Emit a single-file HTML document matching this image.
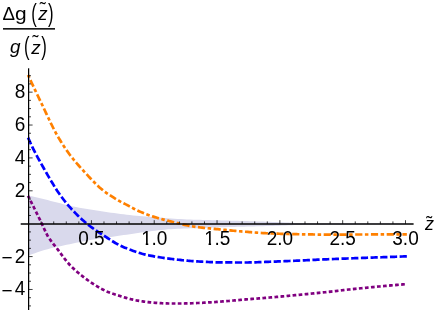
<!DOCTYPE html>
<html><head><meta charset="utf-8"><title>plot</title>
<style>
html,body{margin:0;padding:0;background:#fff;}
body{width:436px;height:313px;overflow:hidden;font-family:"Liberation Sans",sans-serif;}
svg{display:block;will-change:transform;font-family:"Liberation Sans",sans-serif;}
</style></head><body>
<svg width="436" height="313" viewBox="0 0 436 313">
<rect width="436" height="313" fill="#fff"/>
<path d="M28.60 195.50 L31.77 196.25 L34.93 197.01 L38.10 197.77 L41.27 198.54 L44.44 199.32 L47.60 200.10 L50.77 200.89 L53.94 201.68 L57.11 202.47 L60.27 203.29 L63.44 204.14 L66.61 204.98 L69.77 205.75 L72.94 206.43 L76.11 207.07 L79.28 207.67 L82.44 208.25 L85.61 208.81 L88.78 209.34 L91.94 209.86 L95.11 210.36 L98.28 210.84 L101.45 211.31 L104.61 211.77 L107.78 212.22 L110.95 212.66 L114.12 213.08 L117.28 213.51 L120.45 213.93 L123.62 214.34 L126.78 214.73 L129.95 215.09 L133.12 215.42 L136.29 215.73 L139.45 216.02 L142.62 216.29 L145.79 216.57 L148.95 216.83 L152.12 217.08 L155.29 217.33 L158.46 217.58 L161.62 217.83 L164.79 218.10 L167.96 218.36 L171.13 218.57 L174.29 218.76 L177.46 218.93 L180.63 219.09 L183.79 219.24 L186.96 219.39 L190.13 219.52 L193.30 219.64 L196.46 219.75 L199.63 219.85 L202.80 219.95 L205.96 220.03 L209.13 220.12 L212.30 220.20 L215.47 220.28 L218.63 220.36 L221.80 220.45 L224.97 220.53 L228.14 220.62 L231.30 220.70 L234.47 220.78 L237.64 220.86 L240.80 220.95 L243.97 221.03 L247.14 221.12 L250.31 221.21 L253.47 221.30 L256.64 221.40 L259.81 221.50 L262.97 221.60 L266.14 221.70 L269.31 221.80 L272.48 221.91 L275.64 222.02 L278.81 222.15 L281.98 222.30 L285.15 222.46 L288.31 222.61 L291.48 222.76 L294.65 222.88 L297.81 222.96 L300.98 223.01 L304.15 223.05 L307.32 223.08 L310.48 223.12 L313.65 223.15 L316.82 223.18 L319.98 223.21 L323.15 223.24 L326.32 223.27 L329.49 223.29 L332.65 223.32 L335.82 223.34 L338.99 223.37 L342.16 223.39 L345.32 223.41 L348.49 223.43 L351.66 223.45 L354.82 223.47 L357.99 223.48 L361.16 223.50 L364.33 223.51 L367.49 223.53 L370.66 223.54 L373.83 223.55 L376.99 223.56 L380.16 223.57 L383.33 223.57 L386.50 223.58 L389.66 223.59 L392.83 223.59 L396.00 223.60 L399.17 223.60 L402.33 223.60 L405.50 223.60 L405.50 224.20 L402.33 224.20 L399.17 224.20 L396.00 224.21 L392.83 224.21 L389.66 224.22 L386.50 224.22 L383.33 224.23 L380.16 224.24 L376.99 224.25 L373.83 224.26 L370.66 224.28 L367.49 224.29 L364.33 224.31 L361.16 224.33 L357.99 224.34 L354.82 224.36 L351.66 224.39 L348.49 224.41 L345.32 224.43 L342.16 224.46 L338.99 224.48 L335.82 224.51 L332.65 224.54 L329.49 224.57 L326.32 224.60 L323.15 224.63 L319.98 224.66 L316.82 224.70 L313.65 224.73 L310.48 224.77 L307.32 224.81 L304.15 224.85 L300.98 224.89 L297.81 224.94 L294.65 225.02 L291.48 225.13 L288.31 225.26 L285.15 225.39 L281.98 225.53 L278.81 225.66 L275.64 225.78 L272.48 225.88 L269.31 225.97 L266.14 226.06 L262.97 226.15 L259.81 226.24 L256.64 226.32 L253.47 226.41 L250.31 226.49 L247.14 226.58 L243.97 226.66 L240.80 226.74 L237.64 226.81 L234.47 226.89 L231.30 226.97 L228.14 227.06 L224.97 227.15 L221.80 227.24 L218.63 227.35 L215.47 227.48 L212.30 227.61 L209.13 227.73 L205.96 227.84 L202.80 227.94 L199.63 228.04 L196.46 228.15 L193.30 228.26 L190.13 228.37 L186.96 228.47 L183.79 228.58 L180.63 228.69 L177.46 228.82 L174.29 228.96 L171.13 229.13 L167.96 229.35 L164.79 229.66 L161.62 230.02 L158.46 230.37 L155.29 230.73 L152.12 231.10 L148.95 231.49 L145.79 231.90 L142.62 232.33 L139.45 232.79 L136.29 233.26 L133.12 233.74 L129.95 234.21 L126.78 234.65 L123.62 235.08 L120.45 235.53 L117.28 236.02 L114.12 236.53 L110.95 237.03 L107.78 237.49 L104.61 237.93 L101.45 238.36 L98.28 238.80 L95.11 239.28 L91.94 239.80 L88.78 240.35 L85.61 240.93 L82.44 241.53 L79.28 242.15 L76.11 242.78 L72.94 243.46 L69.77 244.15 L66.61 244.82 L63.44 245.47 L60.27 246.13 L57.11 246.80 L53.94 247.52 L50.77 248.30 L47.60 249.15 L44.44 250.06 L41.27 251.04 L38.10 252.08 L34.93 253.17 L31.77 254.31 L28.60 255.50Z" fill="#d9d9ec"/>
<g transform="scale(1 1.0)" fill="none" stroke-width="2.7" stroke-linecap="square" stroke-linejoin="round">
<path d="M28.60 197.00 L30.18 200.09 L31.75 203.21 L33.33 206.36 L34.91 209.52 L36.48 212.71 L38.06 215.92 L39.64 219.15 L41.22 222.39 L42.79 225.72 L44.37 229.25 L45.95 232.66 L47.52 235.64 L49.10 238.15 L50.68 240.43 L52.25 242.54 L53.83 244.55 L55.41 246.53 L56.99 248.53 L58.56 250.61 L60.14 252.73 L61.72 254.86 L63.29 256.97 L64.87 259.03 L66.45 261.02 L68.02 262.91 L69.60 264.68 L71.18 266.31 L72.76 267.87 L74.33 269.36 L75.91 270.79 L77.49 272.16 L79.06 273.49 L80.64 274.77 L82.22 276.03 L83.79 277.25 L85.37 278.45 L86.95 279.61 L88.53 280.74 L90.10 281.83 L91.68 282.89 L93.26 283.91 L94.83 284.90 L96.41 285.86 L97.99 286.81 L99.56 287.74 L101.14 288.65 L102.72 289.51 L104.30 290.33 L105.87 291.09 L107.45 291.78 L109.03 292.41 L110.60 293.00 L112.18 293.55 L113.76 294.08 L115.33 294.58 L116.91 295.07 L118.49 295.54 L120.07 296.02 L121.64 296.50 L123.22 296.98 L124.80 297.46 L126.37 297.93 L127.95 298.39 L129.53 298.82 L131.10 299.23 L132.68 299.61 L134.26 299.95 L135.84 300.26 L137.41 300.55 L138.99 300.83 L140.57 301.09 L142.14 301.34 L143.72 301.57 L145.30 301.79 L146.87 301.98 L148.45 302.15 L150.03 302.30 L151.61 302.44 L153.18 302.58 L154.76 302.71 L156.34 302.84 L157.91 302.97 L159.49 303.08 L161.07 303.19 L162.64 303.28 L164.22 303.36 L165.80 303.42 L167.37 303.47 L168.95 303.49 L170.53 303.50 L172.11 303.50 L173.68 303.50 L175.26 303.50 L176.84 303.50 L178.41 303.50 L179.99 303.50 L181.57 303.50 L183.14 303.50 L184.72 303.48 L186.30 303.46 L187.88 303.42 L189.45 303.36 L191.03 303.31 L192.61 303.24 L194.18 303.17 L195.76 303.10 L197.34 303.02 L198.91 302.95 L200.49 302.88 L202.07 302.80 L203.65 302.72 L205.22 302.64 L206.80 302.55 L208.38 302.45 L209.95 302.35 L211.53 302.25 L213.11 302.14 L214.68 302.03 L216.26 301.92 L217.84 301.80 L219.42 301.69 L220.99 301.57 L222.57 301.46 L224.15 301.34 L225.72 301.21 L227.30 301.08 L228.88 300.94 L230.45 300.80 L232.03 300.66 L233.61 300.52 L235.19 300.37 L236.76 300.23 L238.34 300.09 L239.92 299.94 L241.49 299.80 L243.07 299.66 L244.65 299.53 L246.22 299.40 L247.80 299.27 L249.38 299.14 L250.96 299.02 L252.53 298.89 L254.11 298.77 L255.69 298.65 L257.26 298.53 L258.84 298.40 L260.42 298.28 L261.99 298.16 L263.57 298.03 L265.15 297.90 L266.73 297.77 L268.30 297.64 L269.88 297.51 L271.46 297.37 L273.03 297.24 L274.61 297.10 L276.19 296.96 L277.76 296.82 L279.34 296.67 L280.92 296.53 L282.49 296.38 L284.07 296.24 L285.65 296.09 L287.23 295.94 L288.80 295.79 L290.38 295.64 L291.96 295.49 L293.53 295.34 L295.11 295.19 L296.69 295.04 L298.26 294.89 L299.84 294.74 L301.42 294.58 L303.00 294.43 L304.57 294.28 L306.15 294.12 L307.73 293.97 L309.30 293.82 L310.88 293.66 L312.46 293.50 L314.03 293.35 L315.61 293.19 L317.19 293.03 L318.77 292.87 L320.34 292.71 L321.92 292.55 L323.50 292.38 L325.07 292.22 L326.65 292.05 L328.23 291.88 L329.80 291.71 L331.38 291.54 L332.96 291.36 L334.54 291.18 L336.11 290.99 L337.69 290.81 L339.27 290.62 L340.84 290.43 L342.42 290.25 L344.00 290.06 L345.57 289.88 L347.15 289.71 L348.73 289.53 L350.31 289.37 L351.88 289.20 L353.46 289.04 L355.04 288.88 L356.61 288.71 L358.19 288.55 L359.77 288.39 L361.34 288.23 L362.92 288.07 L364.50 287.91 L366.08 287.76 L367.65 287.60 L369.23 287.44 L370.81 287.29 L372.38 287.14 L373.96 286.98 L375.54 286.83 L377.11 286.68 L378.69 286.53 L380.27 286.38 L381.85 286.24 L383.42 286.09 L385.00 285.95 L386.58 285.80 L388.15 285.66 L389.73 285.52 L391.31 285.38 L392.88 285.25 L394.46 285.11 L396.04 284.97 L397.62 284.84 L399.19 284.71 L400.77 284.58 L402.35 284.45 L403.92 284.33 L405.50 284.20" stroke="#800080" stroke-dasharray="1.000 5.060" stroke-dashoffset="0.5"/>
<path d="M28.60 138.90 L30.18 142.40 L31.75 145.81 L33.33 149.06 L34.91 152.16 L36.48 155.15 L38.06 158.06 L39.64 160.90 L41.22 163.71 L42.79 166.51 L44.37 169.30 L45.95 172.07 L47.52 174.80 L49.10 177.50 L50.68 180.17 L52.25 182.79 L53.83 185.41 L55.41 187.98 L56.99 190.44 L58.56 192.73 L60.14 194.96 L61.72 197.13 L63.29 199.23 L64.87 201.27 L66.45 203.24 L68.02 205.14 L69.60 206.95 L71.18 208.70 L72.76 210.40 L74.33 212.06 L75.91 213.68 L77.49 215.25 L79.06 216.78 L80.64 218.27 L82.22 219.71 L83.79 221.10 L85.37 222.45 L86.95 223.76 L88.53 225.02 L90.10 226.23 L91.68 227.41 L93.26 228.55 L94.83 229.66 L96.41 230.75 L97.99 231.81 L99.56 232.86 L101.14 233.89 L102.72 234.92 L104.30 235.94 L105.87 236.97 L107.45 238.00 L109.03 239.02 L110.60 240.04 L112.18 241.04 L113.76 242.02 L115.33 242.97 L116.91 243.87 L118.49 244.73 L120.07 245.53 L121.64 246.28 L123.22 246.98 L124.80 247.64 L126.37 248.27 L127.95 248.87 L129.53 249.47 L131.10 250.06 L132.68 250.65 L134.26 251.23 L135.84 251.79 L137.41 252.32 L138.99 252.84 L140.57 253.32 L142.14 253.78 L143.72 254.19 L145.30 254.57 L146.87 254.92 L148.45 255.26 L150.03 255.58 L151.61 255.89 L153.18 256.19 L154.76 256.48 L156.34 256.75 L157.91 257.02 L159.49 257.27 L161.07 257.52 L162.64 257.75 L164.22 257.98 L165.80 258.20 L167.37 258.41 L168.95 258.62 L170.53 258.82 L172.11 259.01 L173.68 259.21 L175.26 259.40 L176.84 259.58 L178.41 259.76 L179.99 259.94 L181.57 260.11 L183.14 260.27 L184.72 260.43 L186.30 260.58 L187.88 260.72 L189.45 260.85 L191.03 260.98 L192.61 261.09 L194.18 261.20 L195.76 261.30 L197.34 261.39 L198.91 261.48 L200.49 261.58 L202.07 261.67 L203.65 261.75 L205.22 261.84 L206.80 261.92 L208.38 262.00 L209.95 262.07 L211.53 262.13 L213.11 262.20 L214.68 262.25 L216.26 262.30 L217.84 262.34 L219.42 262.37 L220.99 262.39 L222.57 262.40 L224.15 262.42 L225.72 262.43 L227.30 262.44 L228.88 262.45 L230.45 262.46 L232.03 262.47 L233.61 262.47 L235.19 262.48 L236.76 262.49 L238.34 262.49 L239.92 262.49 L241.49 262.50 L243.07 262.50 L244.65 262.50 L246.22 262.50 L247.80 262.48 L249.38 262.46 L250.96 262.43 L252.53 262.39 L254.11 262.35 L255.69 262.30 L257.26 262.24 L258.84 262.18 L260.42 262.12 L261.99 262.06 L263.57 261.99 L265.15 261.93 L266.73 261.87 L268.30 261.81 L269.88 261.75 L271.46 261.70 L273.03 261.64 L274.61 261.58 L276.19 261.53 L277.76 261.46 L279.34 261.40 L280.92 261.34 L282.49 261.28 L284.07 261.21 L285.65 261.15 L287.23 261.08 L288.80 261.01 L290.38 260.95 L291.96 260.88 L293.53 260.81 L295.11 260.75 L296.69 260.68 L298.26 260.61 L299.84 260.54 L301.42 260.47 L303.00 260.39 L304.57 260.32 L306.15 260.25 L307.73 260.17 L309.30 260.10 L310.88 260.02 L312.46 259.95 L314.03 259.87 L315.61 259.80 L317.19 259.72 L318.77 259.65 L320.34 259.58 L321.92 259.51 L323.50 259.44 L325.07 259.37 L326.65 259.30 L328.23 259.23 L329.80 259.17 L331.38 259.10 L332.96 259.04 L334.54 258.98 L336.11 258.92 L337.69 258.86 L339.27 258.80 L340.84 258.74 L342.42 258.68 L344.00 258.62 L345.57 258.56 L347.15 258.51 L348.73 258.45 L350.31 258.39 L351.88 258.33 L353.46 258.27 L355.04 258.21 L356.61 258.15 L358.19 258.09 L359.77 258.03 L361.34 257.98 L362.92 257.92 L364.50 257.86 L366.08 257.80 L367.65 257.74 L369.23 257.68 L370.81 257.63 L372.38 257.57 L373.96 257.51 L375.54 257.45 L377.11 257.40 L378.69 257.34 L380.27 257.28 L381.85 257.23 L383.42 257.17 L385.00 257.11 L386.58 257.06 L388.15 257.00 L389.73 256.95 L391.31 256.89 L392.88 256.84 L394.46 256.78 L396.04 256.73 L397.62 256.67 L399.19 256.62 L400.77 256.56 L402.35 256.51 L403.92 256.45 L405.50 256.40" stroke="#0000ff" stroke-dasharray="4.500 5.198"/>
<path d="M28.60 76.20 L30.18 79.58 L31.75 82.95 L33.33 86.31 L34.91 89.65 L36.48 92.98 L38.06 96.29 L39.64 99.59 L41.22 102.87 L42.79 106.15 L44.37 109.48 L45.95 112.83 L47.52 116.19 L49.10 119.52 L50.68 122.81 L52.25 126.03 L53.83 129.15 L55.41 132.14 L56.99 134.98 L58.56 137.69 L60.14 140.32 L61.72 142.88 L63.29 145.36 L64.87 147.75 L66.45 150.07 L68.02 152.31 L69.60 154.47 L71.18 156.55 L72.76 158.55 L74.33 160.49 L75.91 162.38 L77.49 164.21 L79.06 166.00 L80.64 167.76 L82.22 169.49 L83.79 171.20 L85.37 172.90 L86.95 174.60 L88.53 176.30 L90.10 177.99 L91.68 179.65 L93.26 181.29 L94.83 182.89 L96.41 184.45 L97.99 185.95 L99.56 187.40 L101.14 188.78 L102.72 190.08 L104.30 191.31 L105.87 192.47 L107.45 193.58 L109.03 194.65 L110.60 195.70 L112.18 196.72 L113.76 197.72 L115.33 198.70 L116.91 199.64 L118.49 200.55 L120.07 201.44 L121.64 202.27 L123.22 203.07 L124.80 203.85 L126.37 204.63 L127.95 205.43 L129.53 206.28 L131.10 207.15 L132.68 208.02 L134.26 208.88 L135.84 209.70 L137.41 210.46 L138.99 211.17 L140.57 211.87 L142.14 212.54 L143.72 213.19 L145.30 213.82 L146.87 214.43 L148.45 215.01 L150.03 215.57 L151.61 216.10 L153.18 216.61 L154.76 217.11 L156.34 217.58 L157.91 218.05 L159.49 218.50 L161.07 218.94 L162.64 219.36 L164.22 219.78 L165.80 220.19 L167.37 220.59 L168.95 220.99 L170.53 221.38 L172.11 221.78 L173.68 222.17 L175.26 222.57 L176.84 222.96 L178.41 223.35 L179.99 223.73 L181.57 224.11 L183.14 224.48 L184.72 224.83 L186.30 225.17 L187.88 225.50 L189.45 225.81 L191.03 226.11 L192.61 226.38 L194.18 226.63 L195.76 226.86 L197.34 227.07 L198.91 227.27 L200.49 227.47 L202.07 227.65 L203.65 227.83 L205.22 227.99 L206.80 228.16 L208.38 228.31 L209.95 228.47 L211.53 228.61 L213.11 228.76 L214.68 228.91 L216.26 229.05 L217.84 229.20 L219.42 229.35 L220.99 229.50 L222.57 229.66 L224.15 229.81 L225.72 229.97 L227.30 230.13 L228.88 230.28 L230.45 230.44 L232.03 230.59 L233.61 230.75 L235.19 230.90 L236.76 231.04 L238.34 231.19 L239.92 231.33 L241.49 231.46 L243.07 231.60 L244.65 231.72 L246.22 231.85 L247.80 231.97 L249.38 232.09 L250.96 232.21 L252.53 232.33 L254.11 232.45 L255.69 232.56 L257.26 232.68 L258.84 232.79 L260.42 232.89 L261.99 232.99 L263.57 233.08 L265.15 233.17 L266.73 233.25 L268.30 233.33 L269.88 233.40 L271.46 233.46 L273.03 233.52 L274.61 233.58 L276.19 233.63 L277.76 233.69 L279.34 233.74 L280.92 233.79 L282.49 233.84 L284.07 233.89 L285.65 233.93 L287.23 233.97 L288.80 234.02 L290.38 234.05 L291.96 234.09 L293.53 234.13 L295.11 234.16 L296.69 234.20 L298.26 234.23 L299.84 234.26 L301.42 234.28 L303.00 234.31 L304.57 234.33 L306.15 234.36 L307.73 234.38 L309.30 234.41 L310.88 234.43 L312.46 234.46 L314.03 234.48 L315.61 234.50 L317.19 234.52 L318.77 234.54 L320.34 234.56 L321.92 234.57 L323.50 234.58 L325.07 234.59 L326.65 234.60 L328.23 234.60 L329.80 234.60 L331.38 234.60 L332.96 234.60 L334.54 234.59 L336.11 234.59 L337.69 234.59 L339.27 234.58 L340.84 234.57 L342.42 234.57 L344.00 234.56 L345.57 234.56 L347.15 234.55 L348.73 234.54 L350.31 234.54 L351.88 234.53 L353.46 234.52 L355.04 234.52 L356.61 234.51 L358.19 234.51 L359.77 234.50 L361.34 234.50 L362.92 234.49 L364.50 234.49 L366.08 234.48 L367.65 234.48 L369.23 234.48 L370.81 234.47 L372.38 234.47 L373.96 234.46 L375.54 234.46 L377.11 234.46 L378.69 234.45 L380.27 234.45 L381.85 234.45 L383.42 234.44 L385.00 234.44 L386.58 234.44 L388.15 234.43 L389.73 234.43 L391.31 234.43 L392.88 234.42 L394.46 234.42 L396.04 234.42 L397.62 234.41 L399.19 234.41 L400.77 234.41 L402.35 234.41 L403.92 234.40 L405.50 234.40" stroke="#ff8000" stroke-dasharray="0.800 5.225 4.500 5.225" stroke-dashoffset="0.4"/>
</g>
<g stroke="#000" stroke-width="1.25" fill="none">
<path d="M20.7 223.95 H413.6" stroke-width="1.6"/>
<path d="M28.6 68.3 V310"/>
</g>
<path d="M41.16 223.90 V221.40 M53.73 223.90 V221.40 M66.29 223.90 V221.40 M78.85 223.90 V221.40 M91.41 223.90 V220.20 M103.98 223.90 V221.40 M116.54 223.90 V221.40 M129.10 223.90 V221.40 M141.67 223.90 V221.40 M154.23 223.90 V220.20 M166.79 223.90 V221.40 M179.36 223.90 V221.40 M191.92 223.90 V221.40 M204.48 223.90 V221.40 M217.04 223.90 V220.20 M229.61 223.90 V221.40 M242.17 223.90 V221.40 M254.73 223.90 V221.40 M267.30 223.90 V221.40 M279.86 223.90 V220.20 M292.42 223.90 V221.40 M304.99 223.90 V221.40 M317.55 223.90 V221.40 M330.11 223.90 V221.40 M342.68 223.90 V220.20 M355.24 223.90 V221.40 M367.80 223.90 V221.40 M380.36 223.90 V221.40 M392.93 223.90 V221.40 M405.49 223.90 V220.20 M28.60 305.92 H31.00 M28.60 297.70 H31.00 M28.60 289.48 H32.60 M28.60 281.25 H31.00 M28.60 273.03 H31.00 M28.60 264.81 H31.00 M28.60 256.59 H32.60 M28.60 248.37 H31.00 M28.60 240.14 H31.00 M28.60 231.92 H31.00 M28.60 215.48 H31.00 M28.60 207.26 H31.00 M28.60 199.03 H31.00 M28.60 190.81 H32.60 M28.60 182.59 H31.00 M28.60 174.37 H31.00 M28.60 166.15 H31.00 M28.60 157.92 H32.60 M28.60 149.70 H31.00 M28.60 141.48 H31.00 M28.60 133.26 H31.00 M28.60 125.04 H32.60 M28.60 116.81 H31.00 M28.60 108.59 H31.00 M28.60 100.37 H31.00 M28.60 92.15 H32.60 M28.60 83.93 H31.00 M28.60 75.70 H31.00" stroke="#000" stroke-width="0.75" fill="none"/>
<g font-size="19px" fill="#000">
<text transform="translate(91.41 245) scale(1 1.09)" text-anchor="middle">0.5</text>
<clipPath id="c10"><rect x="139.32" y="225" width="14" height="17.95"/><rect x="145.75" y="242.9" width="2.5" height="3"/></clipPath>
<g clip-path="url(#c10)"><text transform="translate(141.32 245) scale(1 1.09)">1</text></g>
<text transform="translate(151.59 245) scale(1 1.09)">.0</text>
<clipPath id="c15"><rect x="202.14" y="225" width="14" height="17.95"/><rect x="208.57" y="242.9" width="2.5" height="3"/></clipPath>
<g clip-path="url(#c15)"><text transform="translate(204.14 245) scale(1 1.09)">1</text></g>
<text transform="translate(214.41 245) scale(1 1.09)">.5</text>
<text transform="translate(279.86 245) scale(1 1.09)" text-anchor="middle">2.0</text>
<text transform="translate(342.68 245) scale(1 1.09)" text-anchor="middle">2.5</text>
<text transform="translate(405.49 245) scale(1 1.09)" text-anchor="middle">3.0</text>
<text transform="translate(25.2 98.15) scale(1 1.07)" text-anchor="end">8</text>
<text transform="translate(25.2 131.04) scale(1 1.07)" text-anchor="end">6</text>
<text transform="translate(25.2 163.92) scale(1 1.07)" text-anchor="end">4</text>
<text transform="translate(25.2 196.81) scale(1 1.07)" text-anchor="end">2</text>
<text transform="translate(25.2 262.59) scale(1 1.07)" text-anchor="end">2</text>
<text x="1.4" y="263.89">−</text>
<text transform="translate(25.2 295.48) scale(1 1.07)" text-anchor="end">4</text>
<text x="1.4" y="296.78">−</text>
</g>
<g fill="#000">
<text x="424.9" y="229.5" font-size="18px" font-style="italic">z</text>
<text x="426.15" y="229.2" font-size="18px">&#732;</text>
<text transform="translate(2.55 19.7) scale(1.04 1)" font-size="18px">&#916;</text>
<text transform="translate(15.1 20.1) scale(1.10 1)" font-size="19px">g</text>
<text transform="translate(31.30 22.40) scale(0.650 1)" font-size="25.6px">(</text>
<text transform="translate(38.2 20.1) scale(1.04 1.02)" font-size="18px" font-style="italic">z</text>
<text x="39.8" y="14.85" font-size="18px">&#732;</text>
<text transform="translate(48.10 22.40) scale(0.650 1)" font-size="25.6px">)</text>
<text transform="translate(10.1 53.4) scale(1.05 1.02)" font-size="18px" font-style="italic">g</text>
<text transform="translate(24.00 55.30) scale(0.650 1)" font-size="25.6px">(</text>
<text transform="translate(31.3 53.5) scale(1.05 1.02)" font-size="18px" font-style="italic">z</text>
<text x="32.4" y="48.4" font-size="18px">&#732;</text>
<text transform="translate(41.20 55.30) scale(0.650 1)" font-size="25.6px">)</text>
</g>
<rect x="3" y="28.1" width="52" height="1.5" fill="#000"/>
</svg>
</body></html>
